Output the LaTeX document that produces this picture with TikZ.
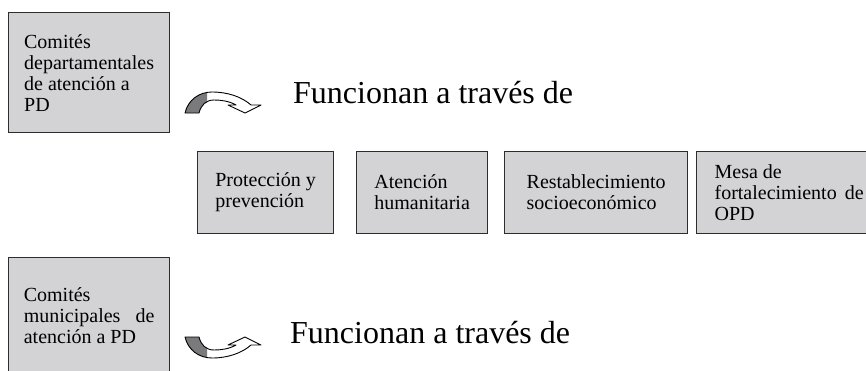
\documentclass[tikz,border=0pt]{standalone}
\usepackage{fontspec}
\setmainfont{Liberation Serif}
\usepackage{xcolor}
\definecolor{boxgray}{RGB}{211,211,213}
\definecolor{arrowgray}{RGB}{122,122,124}
\definecolor{edgegray}{RGB}{45,45,45}

\begin{document}
\begin{tikzpicture}[x=1pt, y=-1pt,
	box_node/.style={rectangle, draw=edgegray, fill=boxgray, line width=1.2pt, align=left, anchor=north west, inner sep=0pt, font=\fontsize{20}{21}\selectfont},
	title_node/.style={anchor=base west, inner sep=0pt, font=\fontsize{32}{38}\selectfont},
	bent_path/.style={insert path={(0,0) .. controls (3,13) and (14,21) .. (27,21) .. controls (43,21) and (57,16) .. (66,8) -- (76,8) -- (60,0) -- (43,8) -- (51,8) .. controls (44,12) and (36,13) .. (29,13) .. controls (21,13) and (16,8) .. (14,0) -- cycle}},
	bent_arrow/.pic={
		\begin{scope}
			\clip (-3,-3) rectangle (22,25);
			\fill[arrowgray, bent_path];
		\end{scope}
		\draw[line width=0.9pt, line join=round, bent_path];
	}]
	
	\useasboundingbox (0,0) rectangle (866,370);
	\clip (0,0) rectangle (866,370);
	
	\node[box_node, minimum width=161pt, minimum height=120pt] (dep) at (8,12) {Comités\\departamentales\\de atención a\\PD};
	\node[box_node, minimum width=161pt, minimum height=116pt] (mun) at (8,257) {Comités\\municipales\hspace{15pt}de\\atención a PD};
	
	\node[box_node, minimum width=136pt, minimum height=82pt] (prot) at (197,151) {Protección y\\prevención};
	\node[box_node, minimum width=131pt, minimum height=82pt] (aten) at (356,151) {Atención\\humanitaria};
	\node[box_node, minimum width=183pt, minimum height=82pt] (rest) at (504,151) {Restablecimiento\\socioeconómico};
	\node[box_node, minimum width=185pt, minimum height=82pt] (mesa) at (696,151) {Mesa de\\fortalecimiento\hspace{8pt}de\\OPD};
	
	\node[title_node] (f1) at (293,103) {Funcionan a través de};
	\node[title_node] (f2) at (290,343) {Funcionan a través de};
	
	\pic[yscale=-1] at (185,113) {bent_arrow};
	\pic at (185,337) {bent_arrow};
\end{tikzpicture}
\end{document}
